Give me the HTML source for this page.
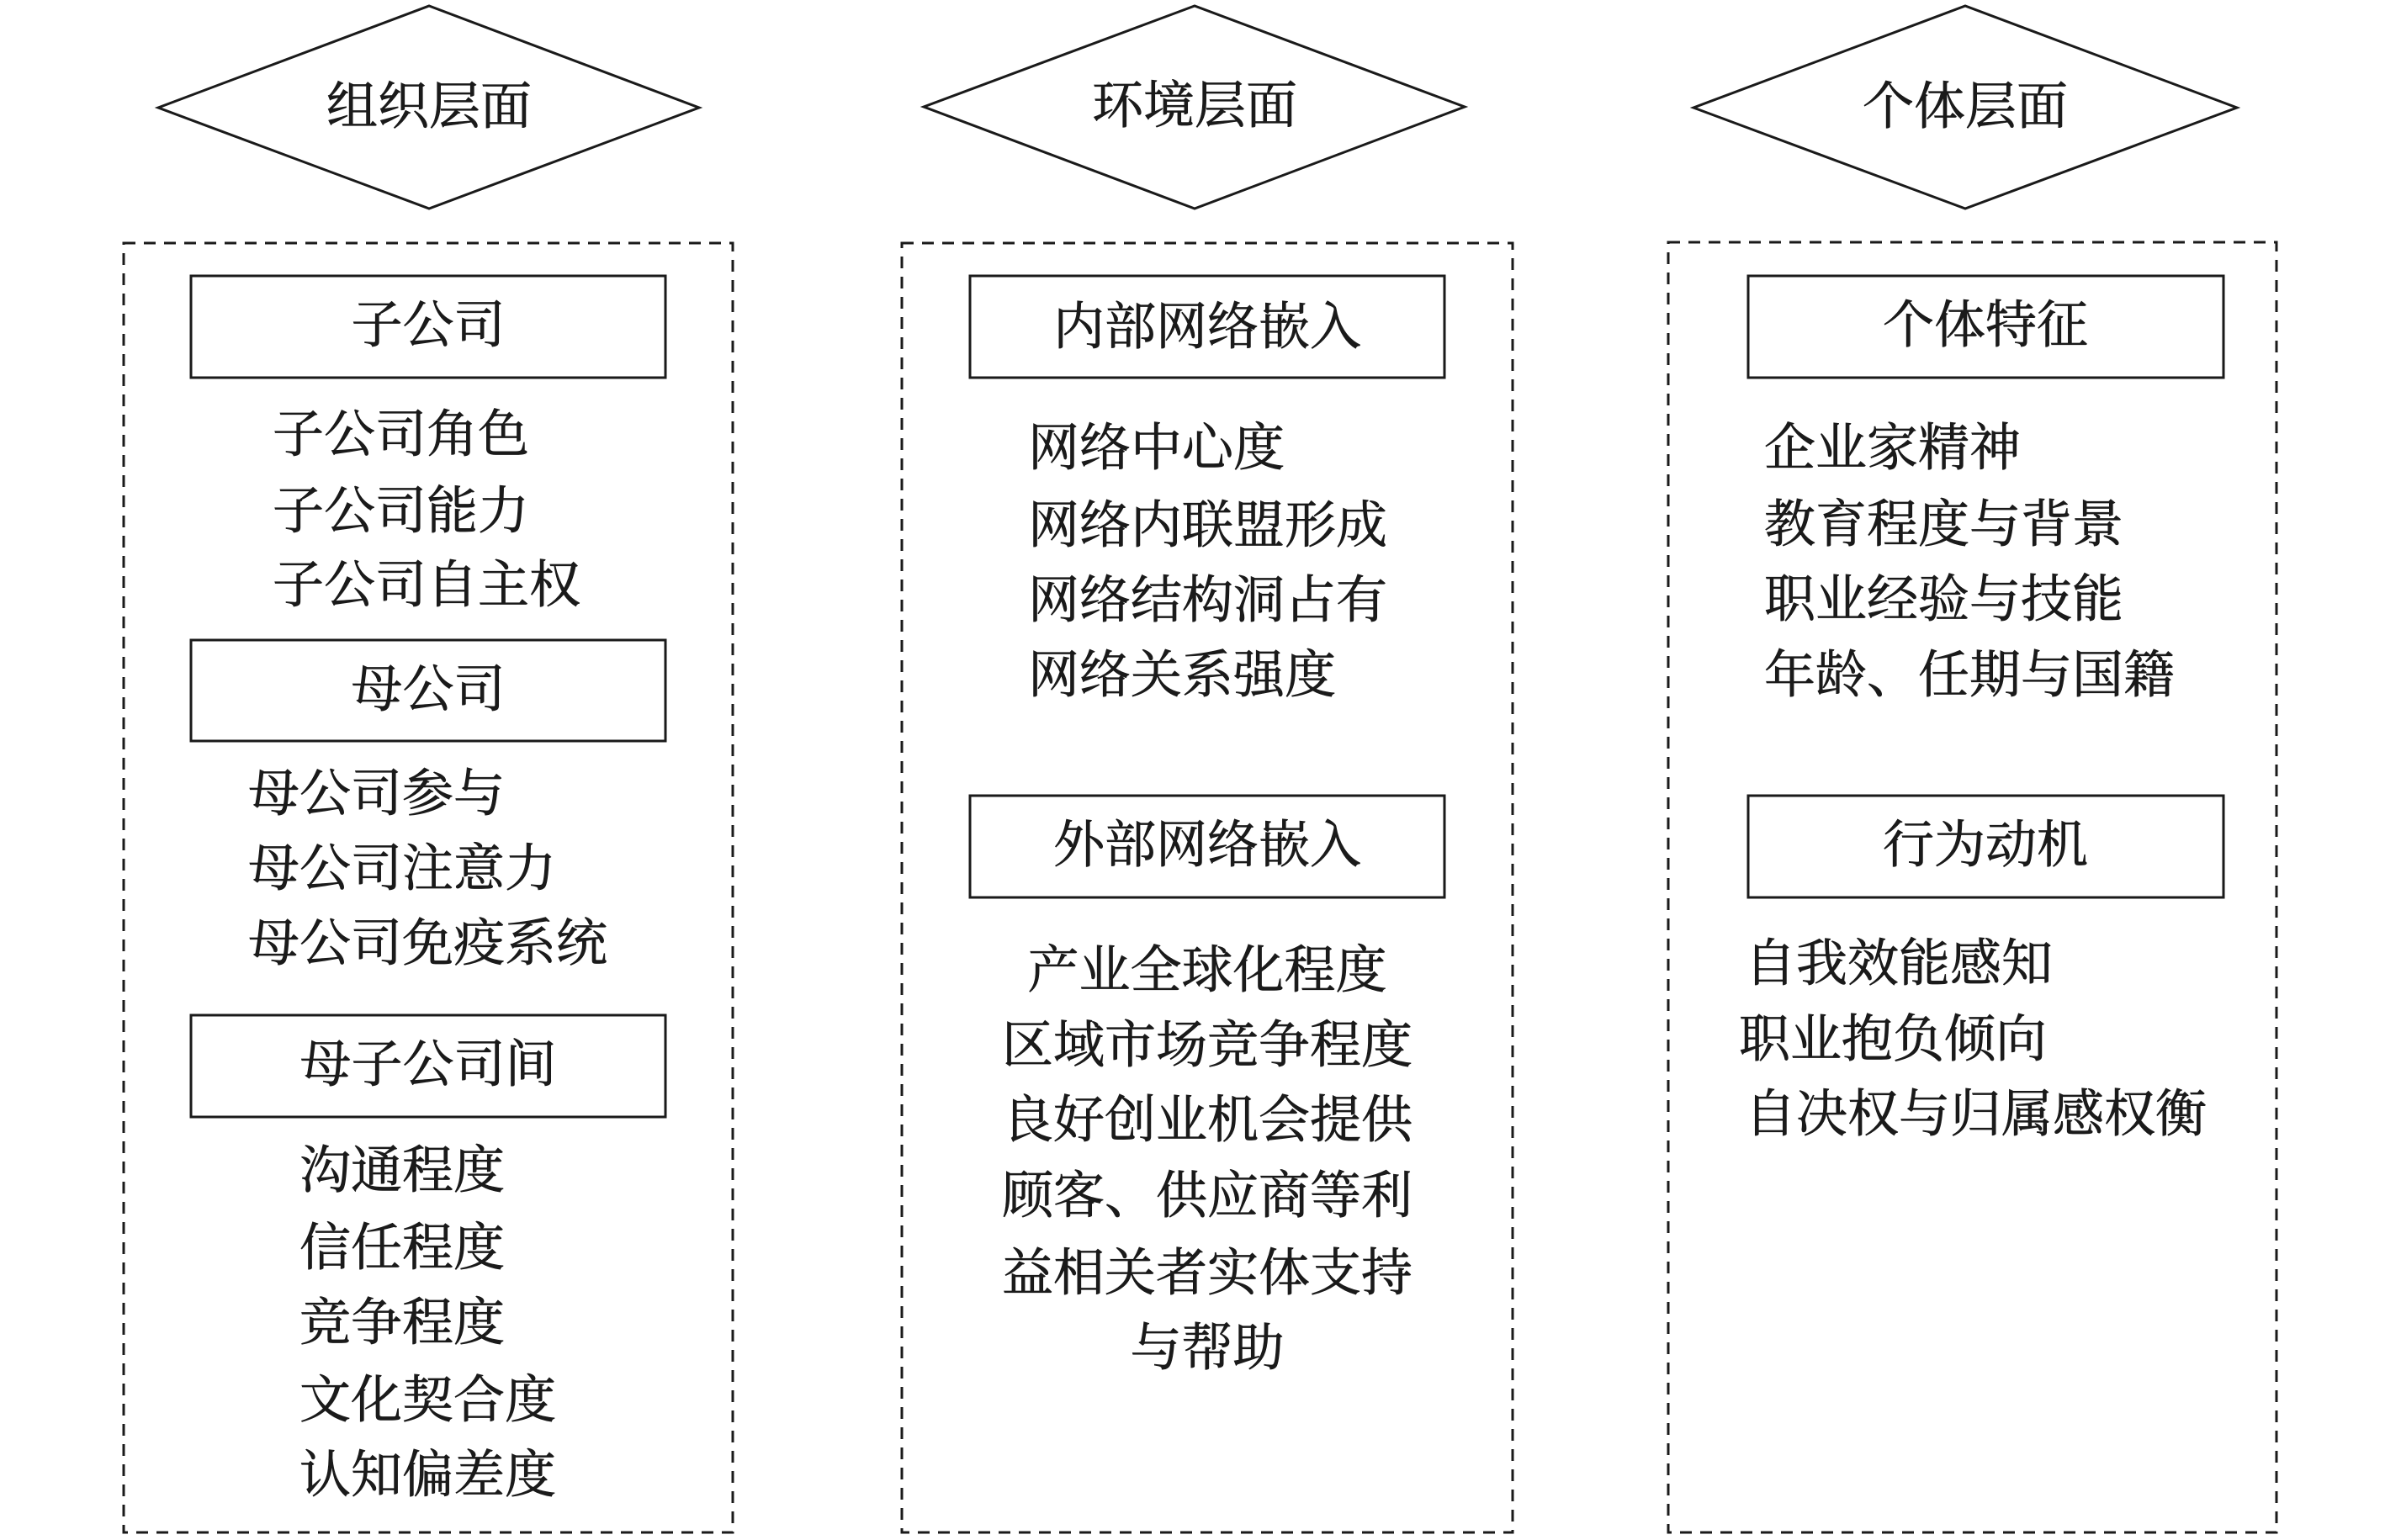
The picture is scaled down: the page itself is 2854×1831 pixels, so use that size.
<!DOCTYPE html>
<html><head><meta charset="utf-8"><style>
body{margin:0;width:2854px;height:1831px;background:#fff;position:relative;overflow:hidden}
svg{position:absolute;left:0;top:0}
.t{position:absolute;font-family:"Liberation Serif","Noto Serif CJK SC",serif;font-size:61px;line-height:60px;color:#1a1a1a;white-space:nowrap;-webkit-text-stroke:0.7px #1a1a1a}
.c{transform:translateX(-50%)}
</style></head><body>
<svg width="2854" height="1831" fill="none" stroke="#1a1a1a">
<polygon points="188,128 510,7 831,128 510,248" stroke-width="3"/>
<polygon points="1098,127 1420,7 1741,127 1420,248" stroke-width="3"/>
<polygon points="2013,128 2336,7 2659,128 2336,248" stroke-width="3"/>
<g stroke-width="3" stroke-dasharray="14,10">
<rect x="147" y="289" width="724" height="1533"/>
<rect x="1072" y="289" width="726" height="1533"/>
<rect x="1983" y="288" width="723" height="1534"/>
</g>
<g stroke-width="3">
<rect x="227" y="328" width="564" height="121"/>
<rect x="227" y="761" width="564" height="120"/>
<rect x="227" y="1207" width="564" height="121"/>
<rect x="1153" y="328" width="564" height="121"/>
<rect x="1153" y="946" width="564" height="121"/>
<rect x="2078" y="328" width="565" height="121"/>
<rect x="2078" y="946" width="565" height="121"/>
</g>
</svg>
<div class="t c" style="left:510px;top:98px">组织层面</div>
<div class="t c" style="left:1420px;top:97px">环境层面</div>
<div class="t c" style="left:2336px;top:98px">个体层面</div>

<div class="t c" style="left:509px;top:358px">子公司</div>
<div class="t" style="left:324px;top:488px">子公司角色</div>
<div class="t" style="left:324px;top:579px">子公司能力</div>
<div class="t" style="left:324px;top:667px">子公司自主权</div>
<div class="t c" style="left:509px;top:791px">母公司</div>
<div class="t" style="left:295px;top:915px">母公司参与</div>
<div class="t" style="left:295px;top:1004px">母公司注意力</div>
<div class="t" style="left:295px;top:1093px">母公司免疫系统</div>
<div class="t c" style="left:509px;top:1237px">母子公司间</div>
<div class="t" style="left:356px;top:1363px">沟通程度</div>
<div class="t" style="left:356px;top:1455px">信任程度</div>
<div class="t" style="left:356px;top:1544px">竞争程度</div>
<div class="t" style="left:356px;top:1636px">文化契合度</div>
<div class="t" style="left:356px;top:1725px">认知偏差度</div>

<div class="t c" style="left:1435px;top:360px">内部网络嵌入</div>
<div class="t" style="left:1222px;top:504px">网络中心度</div>
<div class="t" style="left:1222px;top:596px">网络内联盟形成</div>
<div class="t" style="left:1222px;top:685px">网络结构洞占有</div>
<div class="t" style="left:1222px;top:774px">网络关系强度</div>
<div class="t c" style="left:1435px;top:976px">外部网络嵌入</div>
<div class="t c" style="left:1435px;top:1125px">产业全球化程度</div>
<div class="t c" style="left:1435px;top:1214px">区域市场竞争程度</div>
<div class="t c" style="left:1435px;top:1303px">良好创业机会提供</div>
<div class="t c" style="left:1435px;top:1393px">顾客、供应商等利</div>
<div class="t c" style="left:1435px;top:1485px">益相关者实体支持</div>
<div class="t c" style="left:1435px;top:1574px">与帮助</div>

<div class="t c" style="left:2360px;top:358px">个体特征</div>
<div class="t" style="left:2097px;top:504px">企业家精神</div>
<div class="t" style="left:2097px;top:595px">教育程度与背景</div>
<div class="t" style="left:2097px;top:684px">职业经验与技能</div>
<div class="t" style="left:2097px;top:774px">年龄、任期与国籍</div>
<div class="t c" style="left:2360px;top:976px">行为动机</div>
<div class="t" style="left:2074px;top:1117px">自我效能感知</div>
<div class="t" style="left:2067px;top:1207px">职业抱负倾向</div>
<div class="t" style="left:2074px;top:1296px">自决权与归属感权衡</div>
</body></html>
